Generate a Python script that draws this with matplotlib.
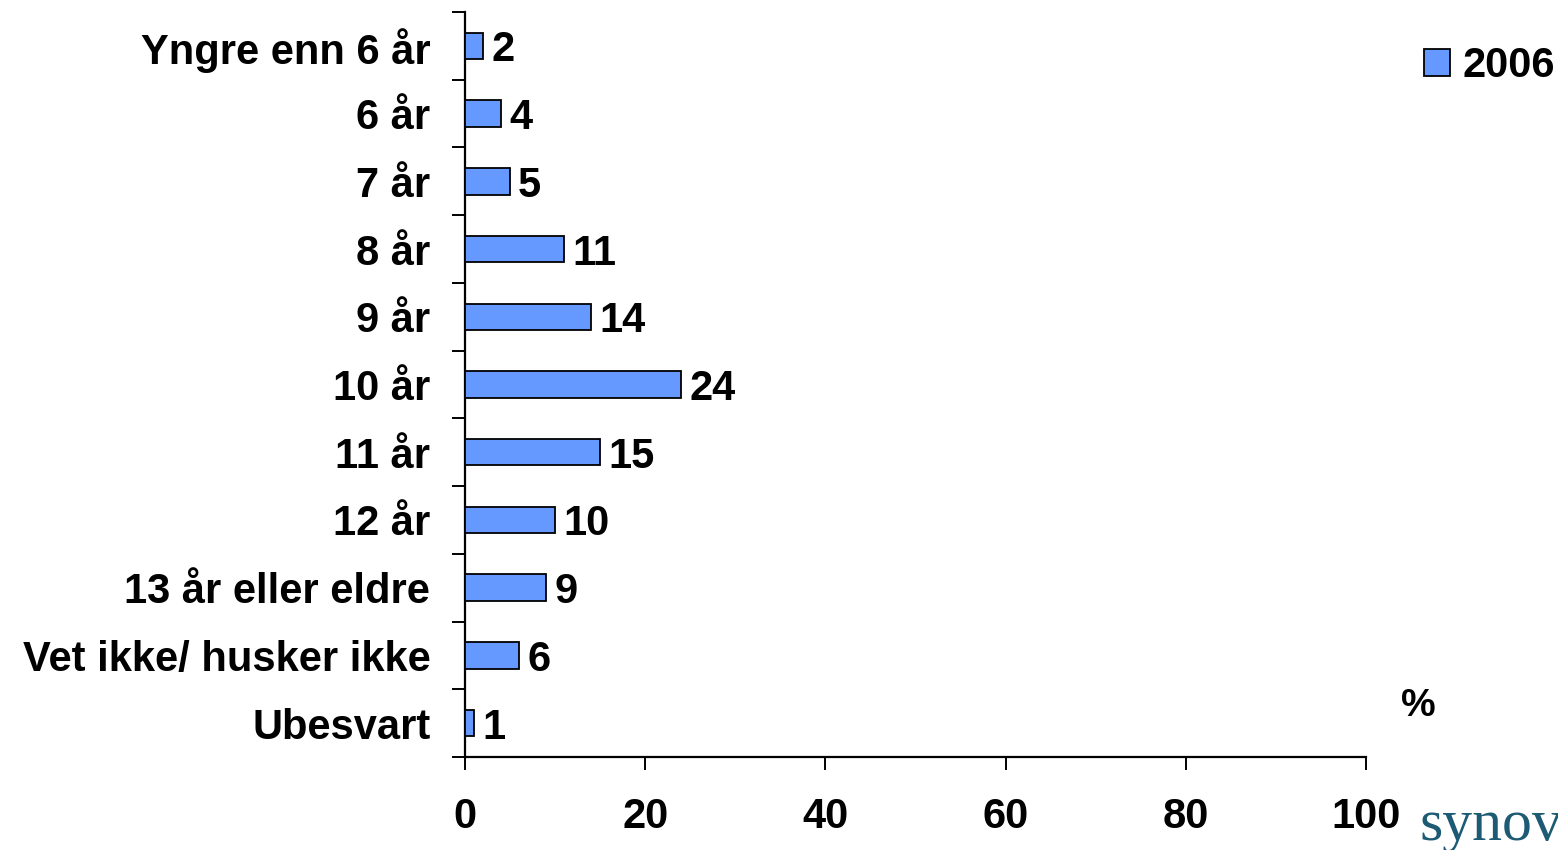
import matplotlib
matplotlib.use("Agg")
import matplotlib.pyplot as plt
import numpy as np
from matplotlib.ticker import FixedLocator, NullFormatter

categories = ["Yngre enn 6 år", "6 år", "7 år", "8 år", "9 år", "10 år",
              "11 år", "12 år", "13 år eller eldre", "Vet ikke/ husker ikke", "Ubesvart"]
values_2006 = [2, 4, 5, 11, 14, 24, 15, 10, 9, 6, 1]
series_name = "2006"
xticks = [0, 20, 40, 60, 80, 100]

plt.rcParams['font.family'] = ['Liberation Sans', 'DejaVu Sans']
plt.rcParams['font.weight'] = 'bold'

FS = 30
W, H = 1558, 850
fig = plt.figure(figsize=(W / 100, H / 100), dpi=100)
ax = fig.add_axes([465 / W, 93 / H, (1366 - 465) / W, (757 - 12) / H])

y = np.arange(len(categories))
bars = ax.barh(y, values_2006, height=0.39, color="#6699FF", edgecolor="black",
               linewidth=1.3, label=series_name, zorder=3)

ax.set_xlim(0, 100)
ax.set_ylim(len(categories) - 0.5, -0.5)

ax.set_yticks(y)
ax.set_yticklabels(categories, fontsize=FS, fontweight='bold')
ax.tick_params(axis='y', which='major', length=0, pad=25)
ax.yaxis.set_minor_locator(FixedLocator(np.arange(-0.5, len(categories), 1.0)))
ax.yaxis.set_minor_formatter(NullFormatter())
ax.tick_params(axis='y', which='minor', length=9.5, width=1.4, direction='out')

ax.set_xticks(xticks)
ax.set_xticklabels([str(t) for t in xticks], fontsize=FS, fontweight='bold')
ax.tick_params(axis='x', which='major', length=9.5, width=1.4, pad=19)

for s in ['top', 'right']:
    ax.spines[s].set_visible(False)
for s in ['left', 'bottom']:
    ax.spines[s].set_linewidth(1.6)

for b, v in zip(bars, values_2006):
    ax.text(b.get_width() + 0.9, b.get_y() + b.get_height() / 2, str(v),
            va='center_baseline', ha='left', fontsize=FS, fontweight='bold')

leg = ax.legend(loc='center left', bbox_to_anchor=(1424 / W, 1 - 66 / H),
                bbox_transform=fig.transFigure, frameon=False, fontsize=FS,
                handlelength=0.62, handleheight=0.62, handletextpad=0.3,
                borderpad=0, borderaxespad=0)
for t in leg.get_texts():
    t.set_fontweight('bold')

fig.text(1401 / W, 1 - 706 / H, "%", fontsize=28, fontweight='bold',
         va='center', ha='left')
fig.text(1419 / W, 1 - 840 / H, "synovate", fontsize=43, color="#1D5A73",
         family=['Liberation Serif', 'DejaVu Serif'], fontweight='normal',
         va='baseline', ha='left')

fig.savefig("out.png", dpi=100, facecolor='white')
